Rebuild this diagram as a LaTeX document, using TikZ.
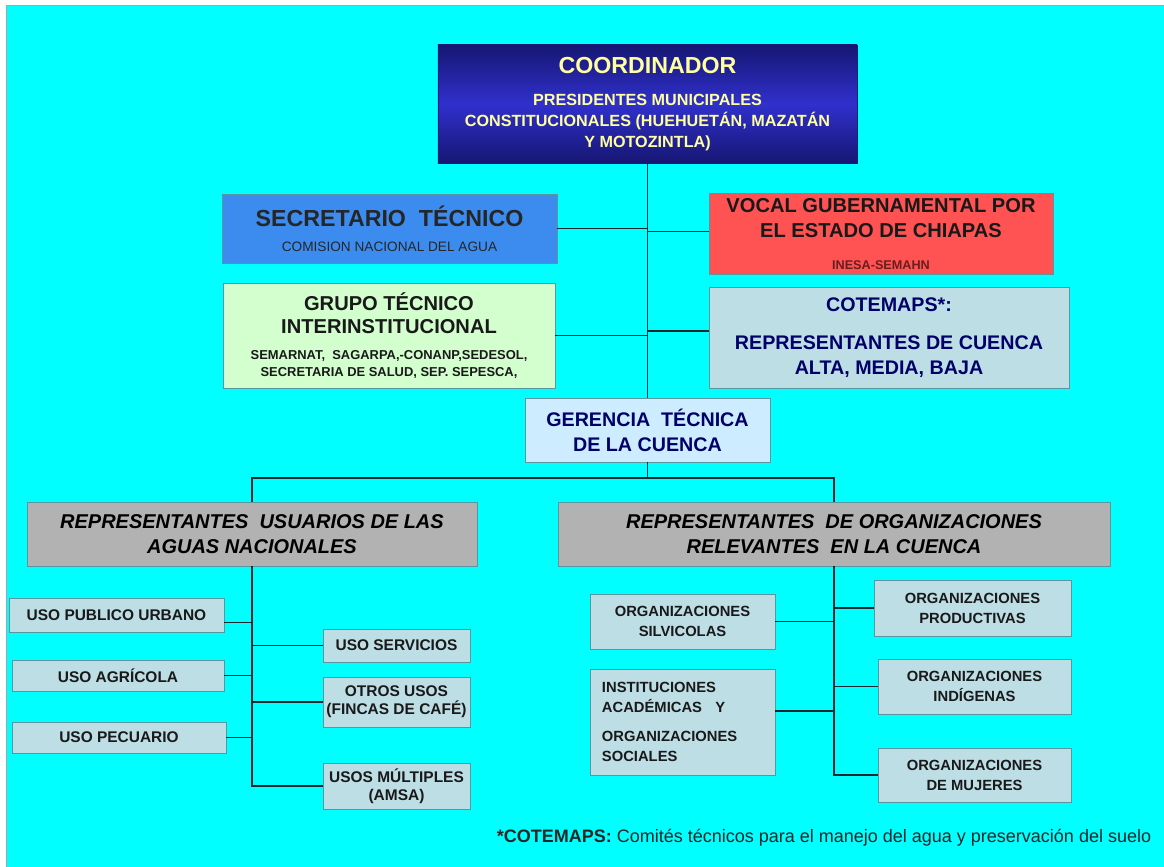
\documentclass[tikz,border=0pt]{standalone}
\usepackage{fontspec}
\setmainfont{Liberation Sans}
\usepackage{xcolor,tikz}

\definecolor{fondo}{RGB}{0,255,255}
\definecolor{marino}{RGB}{0,0,105}
\definecolor{azulosc}{RGB}{22,22,115}
\definecolor{azulmed}{RGB}{48,48,205}
\definecolor{amarillo}{RGB}{255,255,160}
\definecolor{azulsec}{RGB}{60,140,240}
\definecolor{rojovocal}{RGB}{255,82,82}
\definecolor{rojoosc}{RGB}{105,30,30}
\definecolor{verdeg}{RGB}{210,255,205}
\definecolor{grisazul}{RGB}{190,222,230}
\definecolor{celeste}{RGB}{205,236,255}
\definecolor{grisrep}{RGB}{178,178,178}
\definecolor{borde}{RGB}{90,150,160}
\definecolor{trazo}{RGB}{20,40,50}

\newcommand{\tam}[2]{\fontsize{#1}{#2}\selectfont}

\begin{document}
\begin{tikzpicture}[x=0.025cm, y=-0.025cm,
    caja/.style={draw=borde, line width=0.5pt, inner sep=2pt, align=center},
    usocaja/.style={caja, fill=grisazul, text=black!90, font=\tam{11}{13}\bfseries},
    orgcaja/.style={caja, fill=grisazul, text=black!90, font=\tam{10.5}{14.2}\bfseries},
    repcaja/.style={caja, fill=grisrep, minimum height=1.6cm, font=\tam{14.2}{17.8}\bfseries\itshape},
    conector/.style={draw=trazo, line width=1pt}]
    \useasboundingbox (0,0) rectangle (1164,867);
    \fill[white] (0,0) rectangle (1164,867);
    \draw[fill=fondo, draw=gray!70] (6,5) rectangle (1175,880);

    \node (coord) [caja, draw=azulosc, top color=azulosc, bottom color=azulosc, middle color=azulmed, minimum width=10.475cm, minimum height=2.95cm, text=amarillo, font=\tam{11.5}{15}\bfseries] at (647.5,104) {{\tam{16.5}{20}COORDINADOR}\\[8pt] PRESIDENTES MUNICIPALES\\ CONSTITUCIONALES (HUEHUETÁN, MAZATÁN\\ Y MOTOZINTLA)};
    \node (secre) [caja, fill=azulsec, minimum width=8.375cm, minimum height=1.725cm, text=black!85, font=\tam{9.7}{12}] at (389.5,228.5) {{\tam{16.5}{20}\bfseries SECRETARIO~ TÉCNICO}\\[6pt] COMISION NACIONAL DEL AGUA};
    \node (vocal) [caja, fill=rojovocal, minimum width=8.6cm, minimum height=2.025cm, text=black!90, font=\tam{14.3}{17.8}\bfseries] at (881,234) {VOCAL GUBERNAMENTAL POR\\ EL ESTADO DE CHIAPAS\\[5pt] {\tam{9}{11}\color{rojoosc}INESA-SEMAHN}};
    \node (grupo) [caja, fill=verdeg, minimum width=8.3cm, minimum height=2.625cm, text=black!90, font=\tam{9.2}{12}\bfseries] at (389,335.5) {{\tam{14.3}{16.6}GRUPO TÉCNICO}\\[4.4pt] {\tam{14.3}{16.6}INTERINSTITUCIONAL}\\[7pt] SEMARNAT,~ SAGARPA,-CONANP,SEDESOL,\\ SECRETARIA DE SALUD, SEP. SEPESCA,};
    \node (cotemaps) [caja, fill=grisazul, text=marino, minimum width=9cm, minimum height=2.525cm, font=\tam{14}{17.8}\bfseries] at (889,337.5) {COTEMAPS*:\\[9.2pt] REPRESENTANTES DE CUENCA\\ ALTA, MEDIA, BAJA};
    \node (gerencia) [caja, fill=celeste, text=marino, minimum width=6.125cm, minimum height=1.6cm, font=\tam{14}{17.8}\bfseries] at (647.5,430) {GERENCIA~ TÉCNICA\\ DE LA CUENCA};

    \node (usuarios) [repcaja, minimum width=11.25cm] at (252,534) {REPRESENTANTES~ USUARIOS DE LAS\\ AGUAS NACIONALES};
    \node (organiz) [repcaja, minimum width=13.8cm] at (834,534) {REPRESENTANTES~ DE ORGANIZACIONES\\ RELEVANTES~ EN LA CUENCA};

    \node (publico) [usocaja, minimum width=5.375cm, minimum height=0.85cm] at (116.5,615) {USO PUBLICO URBANO};
    \node (agricola) [usocaja, minimum width=5.3cm, minimum height=0.775cm] at (118,675.5) {USO AGRÍCOLA};
    \node (pecuario) [usocaja, minimum width=5.35cm, minimum height=0.775cm] at (119,737.5) {USO PECUARIO};
    \node (servicios) [usocaja, minimum width=3.675cm, minimum height=0.825cm] at (396.5,645.5) {USO SERVICIOS};
    \node (otros) [usocaja, minimum width=3.675cm, minimum height=1.25cm] at (396.5,702) {OTROS USOS\\ (FINCAS DE CAFÉ)};
    \node (multiples) [usocaja, minimum width=3.675cm, minimum height=1.15cm] at (396.5,786) {USOS MÚLTIPLES\\ (AMSA)};

    \node (silvicolas) [orgcaja, minimum width=4.625cm, minimum height=1.375cm] at (682.5,621.5) {ORGANIZACIONES\\ SILVICOLAS};
    \node (instituciones) [orgcaja, align=left, inner xsep=0.3cm, text width=4.025cm, minimum height=2.65cm] at (682.5,722) {INSTITUCIONES\\ ACADÉMICAS\hspace{0.9em}Y\\[7pt] ORGANIZACIONES\\ SOCIALES};
    \node (productivas) [orgcaja, minimum width=4.925cm, minimum height=1.4cm] at (972.5,608) {ORGANIZACIONES\\ PRODUCTIVAS};
    \node (indigenas) [orgcaja, minimum width=4.825cm, minimum height=1.375cm] at (974.5,686.5) {ORGANIZACIONES\\ INDÍGENAS};
    \node (mujeres) [orgcaja, minimum width=4.825cm, minimum height=1.35cm] at (974.5,775) {ORGANIZACIONES\\ DE MUJERES};

    \node (nota) [text=black!85, font=\tam{12.8}{15}] at (824,838) {\textbf{*COTEMAPS:} Comités técnicos para el manejo del agua y preservación del suelo};

    \draw[conector] (coord.south) -- (gerencia.north);
    \draw[conector] (secre.east) -- (secre.east -| coord.south);
    \draw[conector] ([yshift=0.06cm]vocal.west) -- ([yshift=0.06cm]vocal.west -| coord.south);
    \draw[conector] (grupo.east) -- (grupo.east -| coord.south);
    \draw[conector] ([yshift=0.16cm]cotemaps.west) -- ([yshift=0.16cm]cotemaps.west -| coord.south);

    \coordinate (reparto) at (647.5,478);
    \draw[conector] (gerencia.south) -- (reparto);
    \draw[conector] (usuarios.north) |- (reparto) -| (organiz.north);

    \draw[conector] (usuarios.south) -- (usuarios.south |- multiples.west) -- (multiples.west);
    \draw[conector] ([yshift=-0.18cm]publico.east) -- ([yshift=-0.18cm]publico.east -| usuarios.south);
    \draw[conector] (agricola.east) -- (agricola.east -| usuarios.south);
    \draw[conector] (pecuario.east) -- (pecuario.east -| usuarios.south);
    \draw[conector] (servicios.west) -- (servicios.west -| usuarios.south);
    \draw[conector] (otros.west) -- (otros.west -| usuarios.south);

    \draw[conector] (organiz.south) -- (organiz.south |- mujeres.west) -- (mujeres.west);
    \draw[conector] (silvicolas.east) -- (silvicolas.east -| organiz.south);
    \draw[conector] ([yshift=0.275cm]instituciones.east) -- ([yshift=0.275cm]instituciones.east -| organiz.south);
    \draw[conector] (productivas.west) -- (productivas.west -| organiz.south);
    \draw[conector] (indigenas.west) -- (indigenas.west -| organiz.south);
\end{tikzpicture}
\end{document}
